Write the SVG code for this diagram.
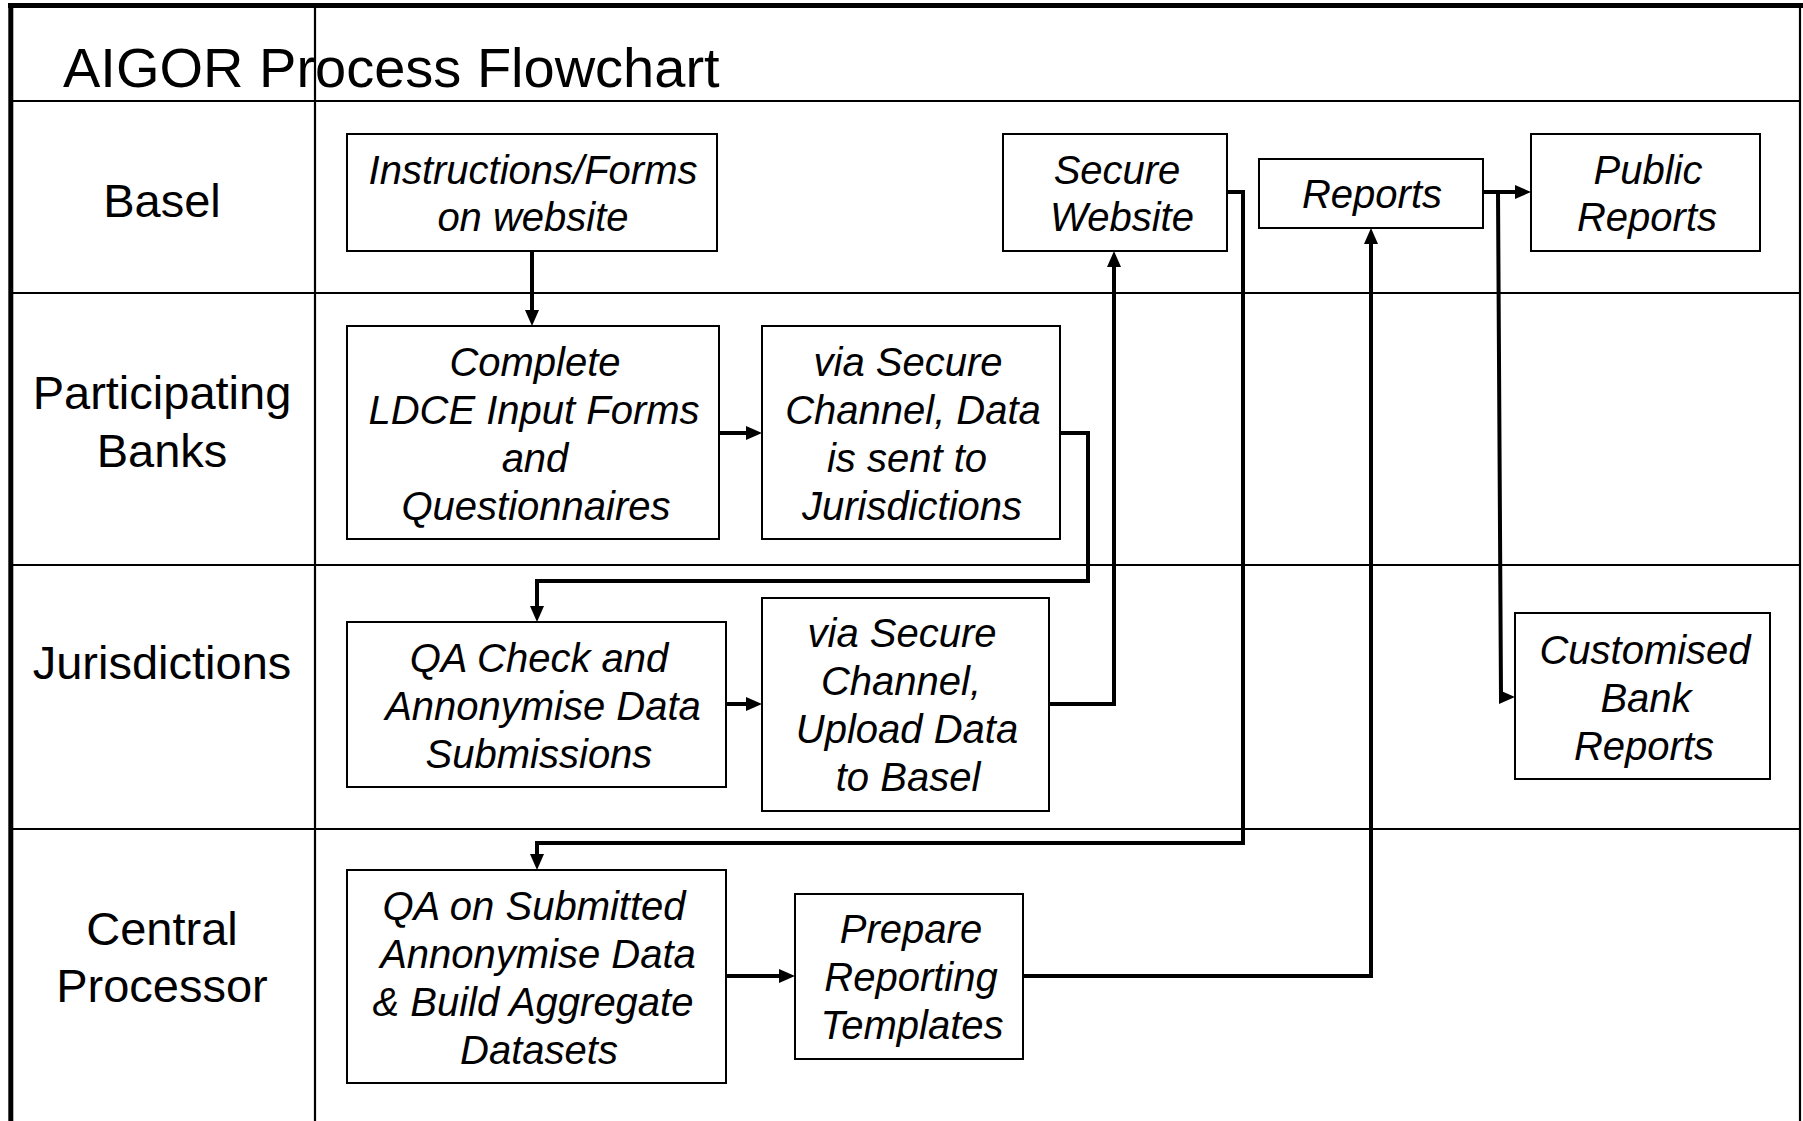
<svg xmlns="http://www.w3.org/2000/svg" width="1803" height="1121" viewBox="0 0 1803 1121">
<style>
  .frame{stroke:#000;fill:none}
  .lane{stroke:#000;stroke-width:2.2;fill:none}
  .box{fill:#fff;stroke:#000;stroke-width:2}
  .node text{font-family:"Liberation Sans",Arial,sans-serif;font-style:italic;font-size:40px;fill:#000;text-anchor:middle}
  .label{font-family:"Liberation Sans",Arial,sans-serif;font-size:47px;fill:#000;text-anchor:middle}
  .title{font-family:"Liberation Sans",Arial,sans-serif;font-size:56px;fill:#000}
  .conn{stroke:#000;stroke-width:4;fill:none;marker-end:url(#arr)}
</style>
<defs>
  <marker id="arr" markerUnits="userSpaceOnUse" markerWidth="16" markerHeight="14" refX="8" refY="7" orient="auto">
    <path d="M0,0 L16,7 L0,14 z" fill="#000"/>
  </marker>
</defs>
<rect x="0" y="0" width="1803" height="1121" fill="#fff"/>

<g id="frame">
  <line class="lane" x1="11" y1="101" x2="1800" y2="101"/>
  <line class="lane" x1="11" y1="293" x2="1800" y2="293"/>
  <line class="lane" x1="11" y1="565" x2="1800" y2="565"/>
  <line class="lane" x1="11" y1="829" x2="1800" y2="829"/>
  <line class="lane" x1="315" y1="5" x2="315" y2="1121"/>
  <line class="lane" x1="1800" y1="5" x2="1800" y2="1121"/>
  <line class="frame" stroke-width="5" x1="8" y1="5.5" x2="1803" y2="5.5"/>
  <line class="frame" stroke-width="5" x1="10.8" y1="3" x2="10.8" y2="1121"/>
</g>

<text class="title" x="63" y="87">AIGOR Process Flowchart</text>

<g id="lane-labels">
  <text class="label" x="162" y="217">Basel</text>
  <text class="label" x="162" y="409">Participating</text>
  <text class="label" x="162" y="467">Banks</text>
  <text class="label" x="162" y="679">Jurisdictions</text>
  <text class="label" x="162" y="945">Central</text>
  <text class="label" x="162" y="1002">Processor</text>
</g>

<g id="connectors">
  <path class="conn" d="M532,251 L532,318"/>
  <path class="conn" d="M719,433 L754,433"/>
  <path class="conn" d="M1060,433 L1088,433 L1088,581 L537,581 L537,614"/>
  <path class="conn" d="M726,704 L754,704"/>
  <path class="conn" d="M1049,704 L1114,704 L1114,259"/>
  <path class="conn" d="M1227,192 L1243,192 L1243,843 L537,843 L537,862"/>
  <path class="conn" d="M726,976 L787,976"/>
  <path class="conn" d="M1023,976 L1371,976 L1371,236"/>
  <path class="conn" d="M1483,192 L1523,192"/>
  <path class="conn" d="M1498,192 L1501,697 L1507,697"/>
</g>

<g id="n-instructions" class="node">
  <rect class="box" x="347" y="134" width="370" height="117"/>
  <text x="533" y="184">Instructions/Forms</text>
  <text x="533" y="231">on website</text>
</g>
<g id="n-secure-website" class="node">
  <rect class="box" x="1003" y="134" width="224" height="117"/>
  <text x="1117" y="184">Secure</text>
  <text x="1122" y="231">Website</text>
</g>
<g id="n-reports" class="node">
  <rect class="box" x="1259" y="159" width="224" height="69"/>
  <text x="1372" y="208">Reports</text>
</g>
<g id="n-public-reports" class="node">
  <rect class="box" x="1531" y="134" width="229" height="117"/>
  <text x="1648" y="184">Public</text>
  <text x="1647" y="231">Reports</text>
</g>
<g id="n-complete" class="node">
  <rect class="box" x="347" y="326" width="372" height="213"/>
  <text x="535" y="376">Complete</text>
  <text x="534" y="424">LDCE Input Forms</text>
  <text x="535" y="472">and</text>
  <text x="536" y="520">Questionnaires</text>
</g>
<g id="n-send-jurisdictions" class="node">
  <rect class="box" x="762" y="326" width="298" height="213"/>
  <text x="908" y="376">via Secure</text>
  <text x="913" y="424">Channel, Data</text>
  <text x="907" y="472">is sent to</text>
  <text x="912" y="520">Jurisdictions</text>
</g>
<g id="n-qa-check" class="node">
  <rect class="box" x="347" y="622" width="379" height="165"/>
  <text x="539" y="672">QA Check and</text>
  <text x="543" y="720">Annonymise Data</text>
  <text x="539" y="768">Submissions</text>
</g>
<g id="n-upload" class="node">
  <rect class="box" x="762" y="598" width="287" height="213"/>
  <text x="902" y="647">via Secure</text>
  <text x="901" y="695">Channel,</text>
  <text x="907" y="743">Upload Data</text>
  <text x="908" y="791">to Basel</text>
</g>
<g id="n-customised" class="node">
  <rect class="box" x="1515" y="613" width="255" height="166"/>
  <text x="1645" y="664">Customised</text>
  <text x="1646" y="712">Bank</text>
  <text x="1644" y="760">Reports</text>
</g>
<g id="n-qa-submitted" class="node">
  <rect class="box" x="347" y="870" width="379" height="213"/>
  <text x="534" y="920">QA on Submitted</text>
  <text x="538" y="968">Annonymise Data</text>
  <text x="533" y="1016">&amp; Build Aggregate</text>
  <text x="539" y="1064">Datasets</text>
</g>
<g id="n-prepare" class="node">
  <rect class="box" x="795" y="894" width="228" height="165"/>
  <text x="911" y="943">Prepare</text>
  <text x="911" y="991">Reporting</text>
  <text x="912" y="1039">Templates</text>
</g>
</svg>
